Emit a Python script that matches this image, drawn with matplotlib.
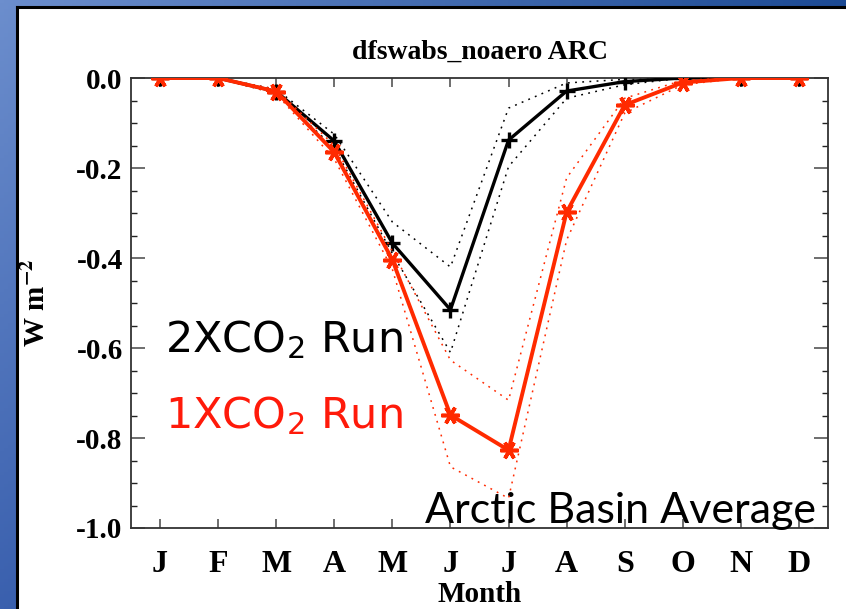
import numpy as np
import matplotlib
matplotlib.use("Agg")
import matplotlib.pyplot as plt
from matplotlib.patches import Rectangle
from matplotlib.lines import Line2D

# ---------------- data ----------------
months = ['J', 'F', 'M', 'A', 'M', 'J', 'J', 'A', 'S', 'O', 'N', 'D']
month_idx = list(range(1, 13))

co2x2 = [0.0, 0.0, -0.030, -0.140, -0.367, -0.515, -0.138, -0.029, -0.008, 0.0, 0.0, 0.0]
co2x2_upper = [0.0, 0.0, -0.025, -0.125, -0.320, -0.420, -0.067, -0.011, -0.003, 0.0, 0.0, 0.0]
co2x2_lower = [0.0, 0.0, -0.035, -0.155, -0.390, -0.610, -0.197, -0.045, -0.015, 0.0, 0.0, 0.0]

co2x1 = [0.0, 0.0, -0.030, -0.165, -0.404, -0.749, -0.827, -0.298, -0.060, -0.010, 0.0, 0.0]
co2x1_upper = [0.0, 0.0, -0.025, -0.150, -0.385, -0.627, -0.716, -0.222, -0.045, -0.005, 0.0, 0.0]
co2x1_lower = [0.0, 0.0, -0.035, -0.180, -0.425, -0.864, -0.934, -0.360, -0.078, -0.015, 0.0, 0.0]

yticks = [0.0, -0.2, -0.4, -0.6, -0.8, -1.0]
ytick_labels = ['0.0', '-0.2', '-0.4', '-0.6', '-0.8', '-1.0']

title = 'dfswabs_noaero ARC'
label_2x = r'2XCO$_2$ Run'
label_1x = r'1XCO$_2$ Run'
region_label = 'Arctic Basin Average'

# ---------------- figure ----------------
W, H = 846, 609
plt.rcParams['mathtext.fontset'] = 'stix'
fig = plt.figure(figsize=(W / 100, H / 100), dpi=100)
fig.patch.set_facecolor('white')

# blue gradient frame
bg = fig.add_axes([0, 0, 1, 1], zorder=-10)
bg.set_axis_off()
xx = np.linspace(0, 1, 200)[None, :]
yy = np.linspace(0, 1, 200)[:, None]
c_tl = np.array([0x6c, 0x8e, 0xcd]) / 255
c_tr = np.array([0x1c, 0x4a, 0x94]) / 255
c_bl = np.array([0x3a, 0x60, 0xae]) / 255
c_br = np.array([0x14, 0x3c, 0x80]) / 255
img = ((1 - xx)[..., None] * (1 - yy)[..., None] * c_tl + xx[..., None] * (1 - yy)[..., None] * c_tr
       + (1 - xx)[..., None] * yy[..., None] * c_bl + xx[..., None] * yy[..., None] * c_br)
bg.imshow(img, extent=[0, 1, 0, 1], aspect='auto', origin='upper')
bg.set_xlim(0, 1)
bg.set_ylim(0, 1)
x0 = 17 / W
y1 = 1 - 7 / H
bg.add_patch(Rectangle((x0, 0), 1 - x0, y1, facecolor='white', edgecolor='none'))
bg.add_line(Line2D([x0, x0], [0, y1], color='black', lw=2.2))
bg.add_line(Line2D([x0, 1], [y1, y1], color='black', lw=2.2))

# main axes
ax = fig.add_axes([131 / W, 1 - 528 / H, (828 - 131) / W, (528 - 78) / H])
ax.set_facecolor('white')

red = '#ff2a00'
dot = (0, (1.2, 3.5))

ax.plot(month_idx, co2x2_upper, color='black', lw=1.1, linestyle=dot, zorder=2)
ax.plot(month_idx, co2x2_lower, color='black', lw=1.1, linestyle=dot, zorder=2)
ax.plot(month_idx, co2x2, color='black', lw=2.4, marker='+', ms=12, mew=2.4, zorder=3)

ax.plot(month_idx, co2x1_upper, color=red, lw=1.1, linestyle=dot, zorder=4)
ax.plot(month_idx, co2x1_lower, color=red, lw=1.1, linestyle=dot, zorder=4)
ax.plot(month_idx, co2x1, color=red, lw=2.8, marker=(6, 2, 30), ms=13, mew=2.6, zorder=5)

ax.set_xlim(0.5, 12.5)
ax.set_ylim(-1.0, 0.0)

serif = ['Liberation Serif', 'DejaVu Serif']
ax.set_xticks(month_idx)
ax.set_xticklabels(months, fontfamily=serif, fontweight='bold', fontsize=23)
ax.set_yticks(yticks)
ax.set_yticklabels(ytick_labels, fontfamily=serif, fontweight='bold', fontsize=21)
ax.set_yticks(np.arange(-1.0, 0.001, 0.05), minor=True)

ax.tick_params(axis='x', which='major', direction='in', length=6.5, width=1.2,
               top=True, bottom=True, color='#555555', pad=16)
ax.tick_params(axis='y', which='major', direction='in', length=10, width=1.2,
               left=True, right=True, color='#555555', pad=6)
ax.tick_params(axis='y', which='minor', direction='in', length=4.5, width=1.0,
               left=True, right=True, color='#222222')
for s in ax.spines.values():
    s.set_color('#333333')
    s.set_linewidth(1.3)

ax.set_xlabel('Month', fontfamily=serif, fontweight='bold', fontsize=21, labelpad=1)
ax.set_ylabel(r'W m$^{\mathbf{-2}}$', fontfamily=serif, fontweight='bold', fontsize=21, labelpad=18)
ax.set_title(title, fontfamily=serif, fontweight='bold', fontsize=20, pad=14)

ax.text(0.049, 0.391, label_2x, transform=ax.transAxes, color='black',
        fontfamily='DejaVu Sans', fontsize=31, ha='left', va='baseline',
        math_fontfamily='dejavusans')
ax.text(0.049, 0.222, label_1x, transform=ax.transAxes, color='#ff1a0a',
        fontfamily='DejaVu Sans', fontsize=31, ha='left', va='baseline',
        math_fontfamily='dejavusans')
ax.text(0.422, 0.012, region_label, transform=ax.transAxes, color='black',
        fontfamily='Lato', fontsize=31, ha='left', va='baseline')

fig.savefig('out.png', dpi=100, facecolor=fig.get_facecolor())
